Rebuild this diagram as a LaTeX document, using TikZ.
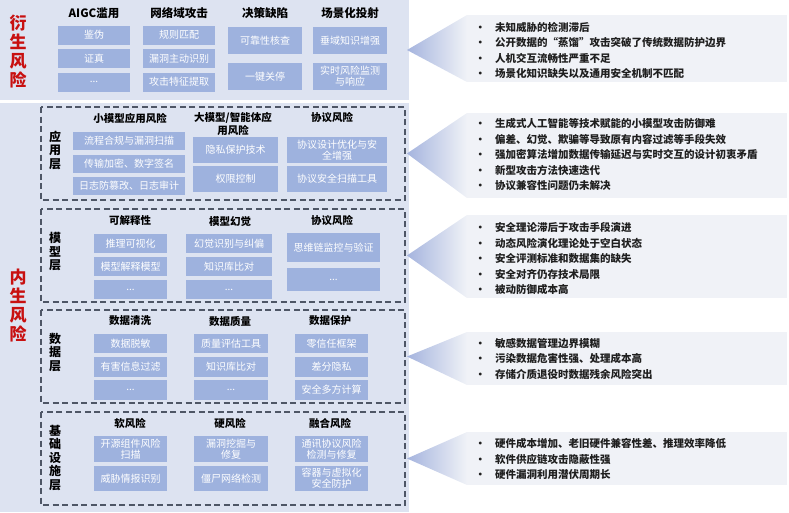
\documentclass[tikz,border=0pt]{standalone}
\usepackage{fontspec}
\setmainfont{Noto Sans CJK SC}
\usepackage{tikz}
\definecolor{panelColor}{RGB}{221,227,241}
\definecolor{boxColor}{RGB}{158,178,222}
\definecolor{frameColor}{RGB}{78,86,102}
\definecolor{riskRed}{RGB}{200,16,16}
\definecolor{tipBlue}{RGB}{165,180,222}
\definecolor{calloutGrey}{RGB}{240,242,247}
\tikzstyle{canvas} = [x = 1pt, y = -1pt]
\tikzstyle{panelStyle} = [fill=panelColor]
\tikzstyle{riskBoxStyle} = [fill=boxColor, text=white, inner sep=0pt, align=center, font=\fontsize{10}{11}\selectfont]
\tikzstyle{headText} = [font=\bfseries\fontsize{10.5}{13}\selectfont, align=center, inner sep=0pt]
\tikzstyle{topHeadText} = [font=\bfseries\fontsize{11.5}{13}\selectfont, inner sep=0pt]
\tikzstyle{layerFrame} = [draw=frameColor, line width=1.1pt, dash pattern=on 6pt off 3.5pt]
\tikzstyle{layerText} = [font=\bfseries\fontsize{12}{13.5}\selectfont, align=center, inner sep=0pt]
\tikzstyle{riskText} = [font=\bfseries\fontsize{17}{19}\selectfont, text=riskRed, align=center, inner sep=0pt]
\tikzstyle{calloutRectStyle} = [fill=calloutGrey]
\tikzstyle{calloutTipStyle} = [left color=tipBlue, right color=calloutGrey]
\tikzstyle{bulletText} = [font=\bfseries\fontsize{10.5}{15.5}\selectfont, text=black!88, anchor=west, align=left, inner sep=0pt]
\newcommand{\riskBox}[6]{\node [riskBoxStyle, minimum width=#4pt, minimum height=#5pt] (#1) at (#2, #3) {#6};}
\newcommand{\layerFrameBox}[2]{\draw [layerFrame] (41, #1) rectangle (405, #2);}
\newcommand{\calloutShape}[3]{
  \fill [calloutRectStyle] (467, #1) rectangle (787, #2);
  \shade [calloutTipStyle] (407, #3) -- (467, #1) -- (467, #2) -- cycle;
}
\newcommand{\bul}{\makebox[20pt][l]{•}}
\newcommand{\bulletList}[3]{\node [bulletText] (#1) at (475, #2) {#3};}

\begin{document}
\begin{tikzpicture}[canvas]
    \useasboundingbox (0, 0) rectangle (789, 512);
    \fill [panelStyle] (0, 0) rectangle (409, 100);
    \fill [panelStyle] (0, 103) rectangle (409, 512);
    \node [riskText] (derivedRisk) at (18, 51.5) {衍\\生\\风\\险};
    \node [riskText] (innateRisk) at (18, 305.5) {内\\生\\风\\险};

    \node [topHeadText] (aigcHead) at (94, 13) {AIGC滥用};
    \node [topHeadText] (netHead) at (179, 13) {网络域攻击};
    \node [topHeadText] (decHead) at (265, 13) {决策缺陷};
    \node [topHeadText] (sceneHead) at (350, 13) {场景化投射};
    \riskBox{aigcA}{94}{35}{72}{19}{鉴伪}
    \riskBox{aigcB}{94}{58.5}{72}{19}{证真}
    \riskBox{aigcC}{94}{82}{72}{19}{...}
    \riskBox{netA}{179}{35}{72}{19}{规则匹配}
    \riskBox{netB}{179}{58.5}{72}{19}{漏洞主动识别}
    \riskBox{netC}{179}{82}{72}{19}{攻击特征提取}
    \riskBox{decA}{265}{40.5}{74}{27}{可靠性核查}
    \riskBox{decB}{265}{76.5}{74}{27}{一键关停}
    \riskBox{sceneA}{350}{40.5}{74}{27}{垂域知识增强}
    \riskBox{sceneB}{350}{76.5}{74}{27}{实时风险监测\\与响应}

    \layerFrameBox{107}{200}
    \node [layerText] (appLayer) at (55, 150) {应\\用\\层};
    \node [headText] (smallHead) at (130, 118) {小模型应用风险};
    \node [headText] (largeHead) at (233, 124) {大模型/智能体应\\用风险};
    \node [headText] (protoHead) at (332, 118) {协议风险};
    \riskBox{smallA}{129}{140.5}{112}{18}{流程合规与漏洞扫描}
    \riskBox{smallB}{129}{163.5}{112}{18}{传输加密、数字签名}
    \riskBox{smallC}{129}{186}{112}{18}{日志防篡改、日志审计}
    \riskBox{largeA}{235.5}{150}{85}{26}{隐私保护技术}
    \riskBox{largeB}{235.5}{179}{85}{26}{权限控制}
    \riskBox{protoA}{337}{150}{100}{26}{协议设计优化与安\\全增强}
    \riskBox{protoB}{337}{179}{100}{26}{协议安全扫描工具}

    \layerFrameBox{209}{302}
    \node [layerText] (modelLayer) at (55, 252) {模\\型\\层};
    \node [headText] (explainHead) at (130, 221) {可解释性};
    \node [headText] (halluHead) at (230, 221) {模型幻觉};
    \node [headText] (modelProtoHead) at (332, 221) {协议风险};
    \riskBox{explainA}{130.5}{243.5}{73}{19}{推理可视化}
    \riskBox{explainB}{130.5}{266.5}{73}{19}{模型解释模型}
    \riskBox{explainC}{130.5}{289.5}{73}{19}{...}
    \riskBox{halluA}{229}{243.5}{86}{19}{幻觉识别与纠偏}
    \riskBox{halluB}{229}{266.5}{86}{19}{知识库比对}
    \riskBox{halluC}{229}{289.5}{86}{19}{...}
    \riskBox{modelProtoA}{333.5}{247.5}{93}{29}{思维链监控与验证}
    \riskBox{modelProtoB}{333.5}{279.5}{93}{23}{...}

    \layerFrameBox{310}{403}
    \node [layerText] (dataLayer) at (55, 352) {数\\据\\层};
    \node [headText] (cleanHead) at (130, 321) {数据清洗};
    \node [headText] (qualityHead) at (230, 321) {数据质量};
    \node [headText] (guardHead) at (330, 321) {数据保护};
    \riskBox{cleanA}{130.5}{343.5}{73}{19}{数据脱敏}
    \riskBox{cleanB}{130.5}{367}{73}{20}{有害信息过滤}
    \riskBox{cleanC}{130.5}{390}{73}{20}{...}
    \riskBox{qualityA}{231}{343.5}{74}{19}{质量评估工具}
    \riskBox{qualityB}{231}{367}{74}{20}{知识库比对}
    \riskBox{qualityC}{231}{390}{74}{20}{...}
    \riskBox{guardA}{331.5}{343.5}{73}{19}{零信任框架}
    \riskBox{guardB}{331.5}{367}{73}{20}{差分隐私}
    \riskBox{guardC}{331.5}{390}{73}{20}{安全多方计算}

    \layerFrameBox{412}{505}
    \node [layerText] (infraLayer) at (55, 458) {基\\础\\设\\施\\层};
    \node [headText] (softHead) at (130, 423) {软风险};
    \node [headText] (hardHead) at (230, 423) {硬风险};
    \node [headText] (fuseHead) at (330, 423) {融合风险};
    \riskBox{softA}{130.5}{449}{73}{26}{开源组件风险\\扫描}
    \riskBox{softB}{130.5}{478.5}{73}{25}{威胁情报识别}
    \riskBox{hardA}{231}{449}{74}{26}{漏洞挖掘与\\修复}
    \riskBox{hardB}{231}{478.5}{74}{25}{僵尸网络检测}
    \riskBox{fuseA}{331.5}{449}{73}{26}{通讯协议风险\\检测与修复}
    \riskBox{fuseB}{331.5}{478.5}{73}{25}{容器与虚拟化\\安全防护}

    \calloutShape{15}{82}{50}
    \calloutShape{113}{198}{153.5}
    \calloutShape{215}{298}{255.5}
    \calloutShape{332}{385}{356.5}
    \calloutShape{432}{485}{458.5}
    \bulletList{derivedNotes}{50.5}{\bul 未知威胁的检测滞后\\\bul 公开数据的“蒸馏”攻击突破了传统数据防护边界\\\bul 人机交互流畅性严重不足\\\bul 场景化知识缺失以及通用安全机制不匹配}
    \bulletList{appNotes}{154.5}{\bul 生成式人工智能等技术赋能的小模型攻击防御难\\\bul 偏差、幻觉、欺骗等导致原有内容过滤等手段失效\\\bul 强加密算法增加数据传输延迟与实时交互的设计初衷矛盾\\\bul 新型攻击方法快速迭代\\\bul 协议兼容性问题仍未解决}
    \bulletList{modelNotes}{258.5}{\bul 安全理论滞后于攻击手段演进\\\bul 动态风险演化理论处于空白状态\\\bul 安全评测标准和数据集的缺失\\\bul 安全对齐仍存技术局限\\\bul 被动防御成本高}
    \bulletList{dataNotes}{358.5}{\bul 敏感数据管理边界模糊\\\bul 污染数据危害性强、处理成本高\\\bul 存储介质退役时数据残余风险突出}
    \bulletList{infraNotes}{459}{\bul 硬件成本增加、老旧硬件兼容性差、推理效率降低\\\bul 软件供应链攻击隐蔽性强\\\bul 硬件漏洞利用潜伏周期长}
\end{tikzpicture}
\end{document}
